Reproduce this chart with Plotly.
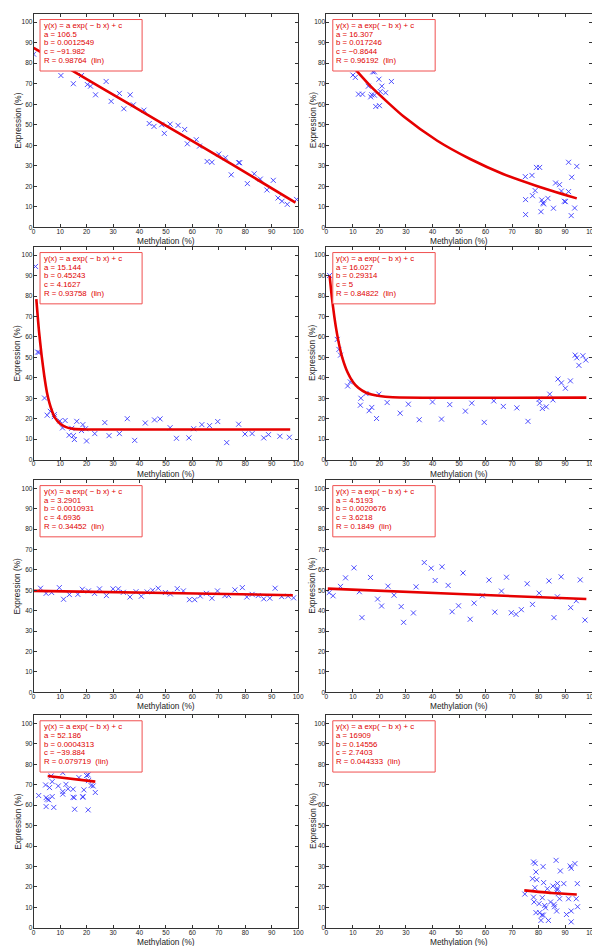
import plotly.graph_objects as go

# ---------------- data ----------------
p1_x = [0.0, 10.3, 15.0, 18.1, 20.3, 21.5, 23.4, 27.4, 32.4, 29.3, 36.5, 34.1, 37.7, 41.7, 43.7, 45.5, 48.4, 49.4,
        51.6, 54.6, 57.1, 58.1, 61.5, 62.7, 70.0, 65.6, 67.4, 72.5, 74.7, 77.5, 77.9, 80.8, 83.4, 85.7, 90.6, 88.2,
        92.4, 93.9, 95.9, 99.4]
p1_y = [84.4, 74.0, 70.0, 74.0, 69.6, 68.8, 64.6, 71.1, 65.3, 61.4, 64.6, 57.8, 59.7, 57.1, 50.6, 49.2, 50.0, 45.8,
        50.3, 49.7, 47.7, 40.7, 42.7, 39.6, 35.7, 32.1, 31.7, 33.9, 25.6, 31.5, 31.5, 21.3, 26.1, 23.5, 22.9, 18.2,
        14.3, 12.7, 11.2, 13.6]
p1_fit_x = [0, 25, 50, 75, 99]
p1_fit_y = [87.5, 68.5, 49.6, 30.7, 12.0]
p1_text = ["y(x) = a exp( − b x) + c", "a = 106.5", "b = 0.0012549", "c = −91.982", "R = 0.98764  (lin)"]

p2_x = [10.0, 10.9, 12.1, 13.6, 19.8, 20.9, 20.3, 22.3, 24.5, 16.7, 17.1, 18.1, 18.6, 20.0, 15.8, 17.5, 18.1,
        75.0, 75.1, 75.1, 77.5, 77.7, 78.7, 79.2, 80.4, 81.2, 81.7, 81.9, 80.9, 83.5, 85.6, 86.4, 87.9, 88.6, 90.1,
        91.3, 91.3, 92.5, 92.3, 93.6, 94.4, 89.7]
p2_y = [74.2, 73.1, 64.9, 64.9, 72.2, 68.8, 66.2, 65.6, 71.1, 63.6, 64.6, 64.4, 58.9, 59.3, 68.8, 75.8, 75.8,
        24.7, 13.5, 6.2, 25.3, 15.4, 17.9, 29.2, 29.2, 13.3, 11.9, 11.4, 7.6, 14.1, 9.3, 21.6, 20.8, 17.7, 12.5,
        31.7, 17.4, 24.4, 5.7, 9.4, 29.7, 12.7]
p2_fit_x = [10.9, 17.1, 29.5, 41.8, 54.2, 66.6, 79.0, 94.4]
p2_fit_y = [77.0, 68.2, 53.6, 42.2, 33.3, 26.0, 20.3, 14.1]
p2_text = ["y(x) = a exp( − b x) + c", "a = 16.307", "b = 0.017246", "c = −0.8644", "R = 0.96192  (lin)"]

p3_x = [0.7, 1.5, 2.0, 4.1, 5.1, 6.3, 7.8, 7.8, 9.9, 11.9, 10.9, 13.4, 14.4, 15.0, 15.4, 16.3, 18.6, 18.1, 19.6,
        20.0, 23.1, 26.9, 28.5, 32.4, 35.4, 38.2, 42.2, 45.7, 47.8, 51.6, 54.0, 58.7, 60.5, 63.6, 66.5, 69.6, 73.0,
        77.5, 79.9, 82.6, 87.0, 88.8, 93.1, 96.7]
p3_y = [94.5, 52.6, 52.4, 30.1, 21.7, 23.6, 22.0, 21.0, 18.9, 19.1, 15.5, 11.9, 15.3, 11.7, 9.8, 18.7, 17.1, 14.2,
        15.1, 9.1, 12.7, 18.1, 11.7, 12.7, 20.0, 9.4, 17.9, 19.4, 19.9, 15.6, 10.4, 10.6, 15.1, 17.1, 16.6, 18.6,
        8.3, 17.3, 12.5, 12.7, 10.6, 12.2, 11.4, 10.9]
p3_fit_x = [1, 2, 3, 4, 5, 6, 7, 8, 10, 12, 15, 20, 40, 97]
p3_fit_y = [78.5, 63, 51, 41, 33, 27.5, 23.5, 20.5, 17.5, 16, 15, 14.7, 14.7, 14.7]
p3_text = ["y(x) = a exp( − b x) + c", "a = 15.144", "b = 0.45243", "c = 4.1627", "R = 0.93758  (lin)"]

p4_x = [1.2, 4.1, 4.7, 5.3, 8.0, 9.0, 13.0, 12.8, 14.9, 16.1, 17.1, 18.9, 19.8, 22.9, 27.8, 30.9, 35.0, 40.0,
        43.4, 46.5, 52.4, 54.8, 59.5, 63.1, 66.7, 71.8, 76.0, 80.2, 80.4, 81.4, 82.9, 84.2, 85.4, 87.3, 88.6, 90.1,
        92.0, 93.8, 94.4, 95.2, 96.7, 97.8]
p4_y = [90.1, 58.8, 53.9, 51.1, 36.0, 38.0, 30.0, 26.6, 32.3, 23.9, 25.5, 20.1, 32.0, 27.9, 22.7, 27.1, 19.5, 28.2,
        19.8, 26.9, 23.7, 27.6, 18.2, 28.7, 26.0, 25.3, 18.7, 29.5, 27.6, 25.0, 25.8, 32.0, 29.2, 39.4, 37.5, 34.9,
        38.5, 51.1, 49.8, 46.1, 50.8, 48.7]
p4_fit_x = [1.2, 2, 3, 4, 5, 6, 8, 10, 12, 15, 20, 25, 98]
p4_fit_y = [90.0, 80.0, 69.7, 61.5, 55.0, 49.8, 42.6, 38.0, 35.1, 32.7, 31.1, 30.5, 30.3]
p4_text = ["y(x) = a exp( − b x) + c", "a = 16.027", "b = 0.29314", "c = 5", "R = 0.84822  (lin)"]

p5_x = [2.6, 4.7, 6.8, 9.7, 11.3, 13.5, 16.7, 18.4, 20.7, 23.0, 24.9, 27.5, 30.0, 32.0, 33.9, 36.4, 38.7, 40.7,
        42.9, 45.0, 47.1, 49.8, 51.7, 54.3, 56.6, 58.9, 60.9, 63.0, 65.3, 67.4, 69.5, 72.3, 73.7, 76.1, 78.9, 80.6,
        82.6, 84.9, 87.0, 89.3, 91.3, 93.8, 96.2, 98.3]
p5_y = [51.0, 48.5, 48.9, 51.3, 45.6, 47.9, 48.0, 50.5, 49.7, 48.5, 50.7, 47.4, 50.7, 50.7, 49.0, 46.7, 49.3, 47.1,
        49.2, 50.0, 51.0, 48.9, 48.2, 50.8, 49.7, 45.4, 45.4, 47.2, 48.5, 46.1, 49.7, 47.4, 47.4, 50.2, 51.3, 46.7,
        48.0, 47.4, 45.8, 46.1, 51.0, 46.9, 47.1, 46.3]
p5_fit_x = [0, 50, 98]
p5_fit_y = [49.7, 48.7, 47.6]
p5_text = ["y(x) = a exp( − b x) + c", "a = 3.2901", "b = 0.0010931", "c = 4.6936", "R = 0.34452  (lin)"]

p6_x = [1.0, 2.5, 5.3, 7.2, 10.4, 12.4, 13.4, 16.6, 19.3, 20.8, 23.2, 25.5, 28.2, 29.1, 32.8, 33.8, 36.9, 39.5,
        41.0, 43.6, 45.9, 47.4, 49.8, 51.5, 54.2, 55.7, 58.8, 61.3, 63.5, 66.0, 67.9, 69.7, 71.5, 73.5, 75.7, 77.7,
        80.2, 83.9, 85.8, 87.1, 88.5, 92.1, 94.2, 95.7, 97.5]
p6_y = [48.8, 47.3, 51.9, 56.1, 61.0, 49.3, 36.6, 56.3, 45.7, 42.3, 52.0, 47.6, 42.0, 34.3, 38.9, 51.7, 63.6, 60.8,
        54.8, 61.5, 52.4, 39.5, 42.4, 58.5, 35.8, 43.7, 47.3, 55.0, 39.3, 49.6, 56.4, 39.0, 38.2, 40.5, 53.2, 43.1,
        48.6, 54.6, 36.6, 46.8, 56.6, 41.5, 44.9, 55.1, 35.4]
p6_fit_x = [0.5, 50, 98]
p6_fit_y = [50.8, 48.2, 45.7]
p6_text = ["y(x) = a exp( − b x) + c", "a = 4.5193", "b = 0.0020676", "c = 3.6218", "R = 0.1849  (lin)"]

p7_x = [1.9, 4.5, 4.7, 5.1, 5.7, 4.7, 6.0, 6.6, 7.0, 7.0, 7.6, 9.3, 11.0, 11.0, 11.0, 12.2, 13.0, 14.9, 14.9,
        15.3, 15.5, 17.1, 19.0, 20.7, 20.0, 20.6, 20.6, 21.7, 22.5, 23.3, 18.6, 18.6]
p7_y = [64.7, 69.9, 63.7, 62.9, 62.6, 59.3, 68.6, 74.3, 71.5, 64.2, 58.9, 69.4, 75.9, 66.7, 65.4, 70.2, 68.0, 63.9,
        67.8, 63.7, 58.0, 73.5, 67.5, 72.0, 74.5, 74.8, 57.7, 69.6, 69.4, 66.2, 63.9, 64.2]
p7_fit_x = [5.3, 23.3]
p7_fit_y = [74.3, 71.5]
p7_text = ["y(x) = a exp( − b x) + c", "a = 52.186", "b = 0.0004313", "c = −39.884", "R = 0.079719  (lin)"]

p8_x = [78.1, 78.7, 79.0, 77.7, 79.3, 78.6, 78.1, 78.3, 79.0, 80.2, 80.4, 80.9, 81.2, 81.8, 81.4, 81.7, 81.9, 82.3,
        82.6, 83.7, 83.3, 84.5, 85.4, 85.8, 86.0, 86.6, 87.0, 87.0, 87.1, 86.8, 87.4, 88.2, 87.9, 89.5, 90.5, 91.3,
        91.9, 92.3, 92.3, 92.3, 93.7, 94.2, 94.6, 94.7, 74.8]
p8_y = [32.2, 31.5, 27.3, 24.0, 23.5, 19.6, 15.0, 12.6, 7.4, 11.8, 7.4, 3.6, 6.2, 6.2, 14.7, 29.9, 22.1, 10.9,
        9.8, 3.6, 19.1, 12.6, 20.4, 11.4, 10.3, 33.0, 19.3, 18.5, 21.7, 8.2, 16.7, 27.8, 14.2, 21.6, 6.5, 14.2,
        30.2, 29.1, 8.2, 2.9, 31.4, 14.2, 21.6, 10.3, 16.5]
p8_fit_x = [74.6, 85, 94.4]
p8_fit_y = [18.3, 17.0, 16.3]
p8_text = ["y(x) = a exp( − b x) + c", "a = 16909", "b = 0.14556", "c = 2.7403", "R = 0.044333  (lin)"]

x_ticks = [0, 10, 20, 30, 40, 50, 60, 70, 80, 90, 100]
y_ticks = [0, 10, 20, 30, 40, 50, 60, 70, 80, 90, 100]
x_title = "Methylation (%)"
y_title = "Expression (%)"

# ---------------- layout ----------------
W, H = 600, 946
FONT = "Liberation Sans, Arial, Helvetica, sans-serif"
col_dom = [(0.04, 0.4867), (0.5345, 0.9825)]
row_px = [(6, 220), (239.8, 453), (473.6, 686.5), (709.5, 922.7)]  # top, bottom in pixels
ytitle_px = [7.3, 306.7]

panels = [
    (p1_x, p1_y, p1_fit_x, p1_fit_y, p1_text),
    (p2_x, p2_y, p2_fit_x, p2_fit_y, p2_text),
    (p3_x, p3_y, p3_fit_x, p3_fit_y, p3_text),
    (p4_x, p4_y, p4_fit_x, p4_fit_y, p4_text),
    (p5_x, p5_y, p5_fit_x, p5_fit_y, p5_text),
    (p6_x, p6_y, p6_fit_x, p6_fit_y, p6_text),
    (p7_x, p7_y, p7_fit_x, p7_fit_y, p7_text),
    (p8_x, p8_y, p8_fit_x, p8_fit_y, p8_text),
]

fig = go.Figure()
layout = dict(
    width=W, height=H, margin=dict(l=0, r=0, t=0, b=0),
    paper_bgcolor="white", plot_bgcolor="white", showlegend=False,
    font=dict(family=FONT, color="#222"),
)
shapes, annotations = [], []

for i, (px, py, fx, fy, txt) in enumerate(panels):
    r, c = divmod(i, 2)
    n = i + 1
    xa = "x" if n == 1 else f"x{n}"
    ya = "y" if n == 1 else f"y{n}"
    top, bot = row_px[r]
    fig.add_trace(go.Scatter(
        x=px, y=py, mode="markers", xaxis=xa, yaxis=ya,
        marker=dict(symbol="x-thin-open", size=5, color="rgba(60,60,255,0.9)",
                    line=dict(width=1, color="rgba(60,60,255,0.9)")),
        hoverinfo="skip"))
    fig.add_trace(go.Scatter(
        x=fx, y=fy, mode="lines", xaxis=xa, yaxis=ya,
        line=dict(color="#e60000", width=2.6, shape="spline", smoothing=0.6),
        hoverinfo="skip"))
    axis_common = dict(showgrid=False, zeroline=False, showline=True, linecolor="#333", linewidth=1,
                       mirror="ticks", ticks="inside", ticklen=3, tickwidth=1, tickcolor="#333",
                       tickfont=dict(family=FONT, size=6.5, color="#222"))
    layout["xaxis" if n == 1 else f"xaxis{n}"] = dict(
        domain=list(col_dom[c]), range=[0, 100], tickvals=x_ticks, anchor=ya,
        ticklabelstandoff=-2, **axis_common)
    layout["yaxis" if n == 1 else f"yaxis{n}"] = dict(
        domain=[1 - bot / H, 1 - top / H], range=[0, 104], tickvals=y_ticks, anchor=xa,
        ticklabelstandoff=-1, **axis_common)
    # text box
    shapes.append(dict(type="rect", xref=xa, yref=ya, x0=2.4, x1=41, y0=76.2, y1=101.3,
                       line=dict(color="#f05050", width=1), fillcolor="white", layer="above"))
    for k, line in enumerate(txt):
        annotations.append(dict(xref=xa, yref=ya, x=3.0, y=98.4 - 4.25 * k, text=line,
                                showarrow=False, xanchor="left", yanchor="middle",
                                font=dict(family=FONT, size=7.8, color="#e00000")))
    # axis titles
    annotations.append(dict(xref="paper", yref="paper", x=(col_dom[c][0] + col_dom[c][1]) / 2,
                            y=1 - (bot + 14) / H, text=x_title, showarrow=False,
                            xanchor="center", yanchor="middle",
                            font=dict(family=FONT, size=8.3, color="#222")))
    annotations.append(dict(xref="paper", yref="paper", x=ytitle_px[c] / W,
                            y=1 - (top + bot) / 2 / H, text=y_title, showarrow=False, textangle=-90,
                            xanchor="center", yanchor="middle",
                            font=dict(family=FONT, size=8.3, color="#222")))

layout["shapes"] = shapes
layout["annotations"] = annotations
fig.update_layout(**layout)
fig.write_html("out.html")
